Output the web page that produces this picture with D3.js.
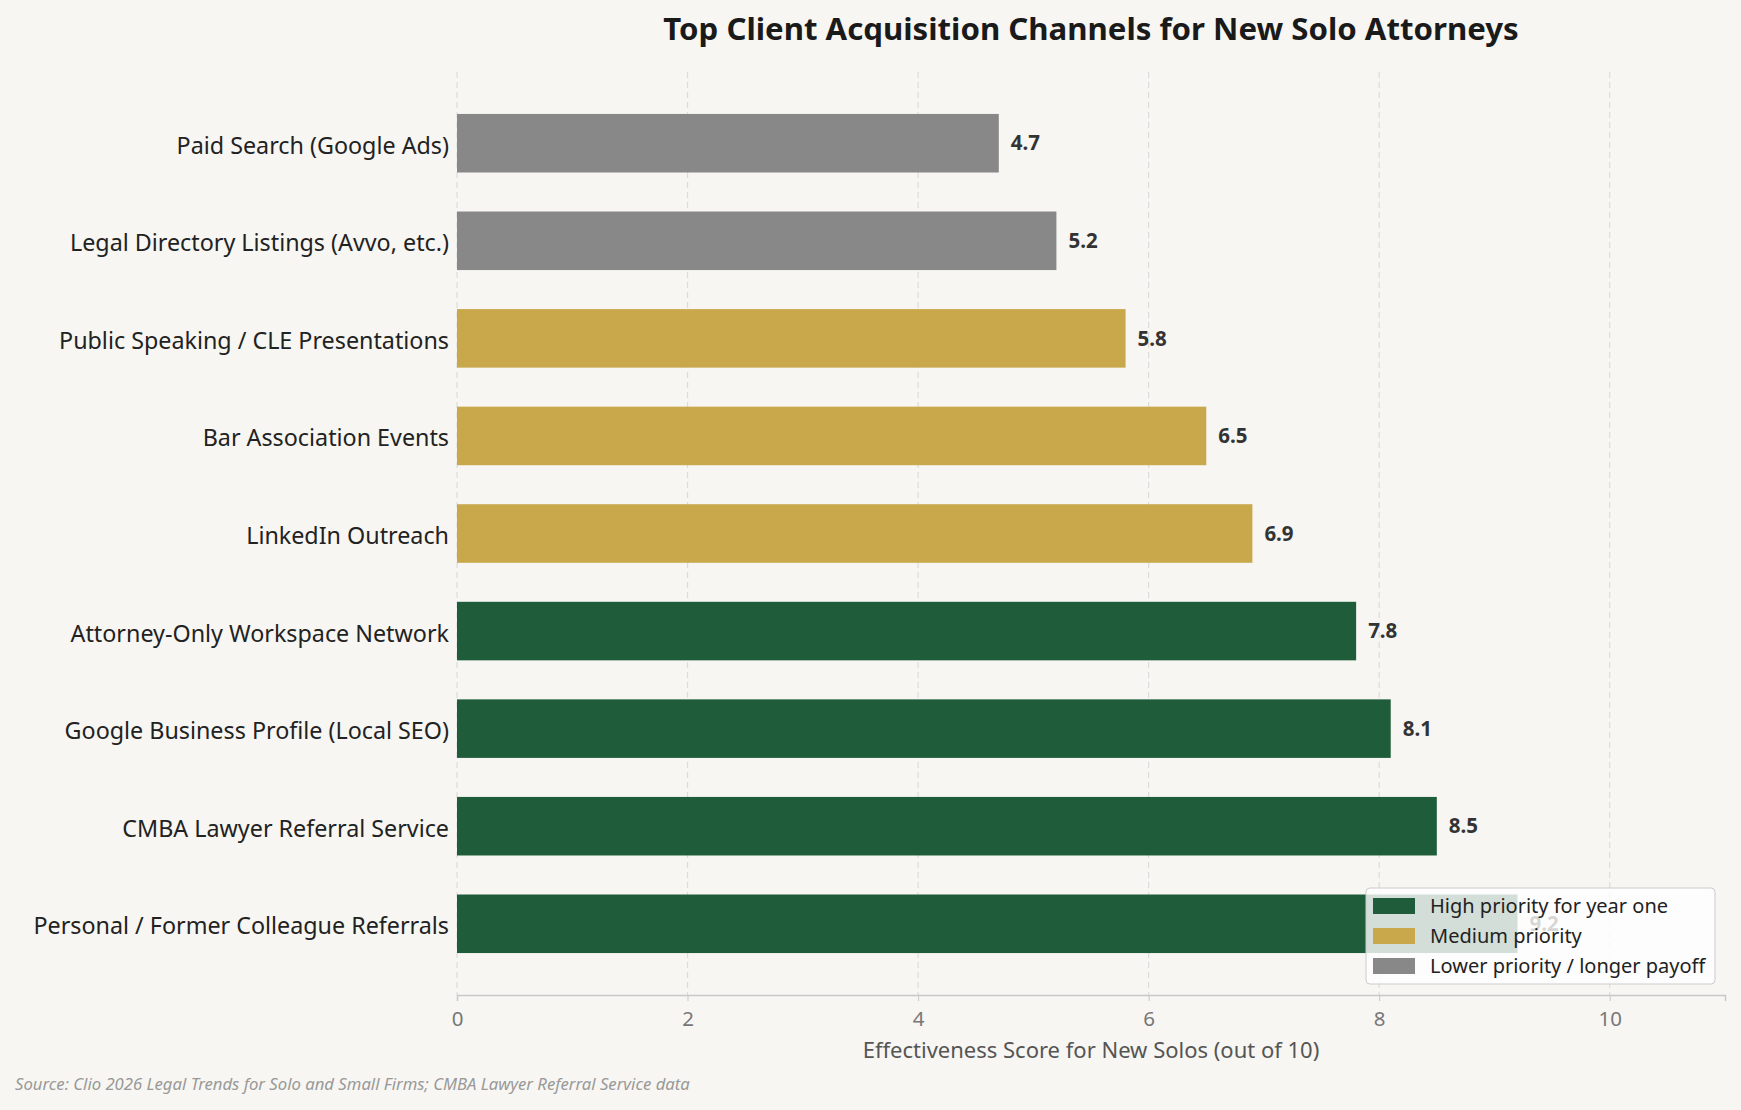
<!DOCTYPE html>
<html>
<head>
<meta charset="utf-8">
<script src="https://cdn.jsdelivr.net/npm/d3@7"></script>
<style>
  html, body { margin: 0; padding: 0; background: #f7f6f2; }
  svg { display: block; font-family: "Noto Sans", "Open Sans", sans-serif; }
</style>
</head>
<body>
<svg id="chart" width="1741" height="1110"></svg>
<script>
// ---- data (top to bottom) ----
const channels = [
  "Paid Search (Google Ads)",
  "Legal Directory Listings (Avvo, etc.)",
  "Public Speaking / CLE Presentations",
  "Bar Association Events",
  "LinkedIn Outreach",
  "Attorney-Only Workspace Network",
  "Google Business Profile (Local SEO)",
  "CMBA Lawyer Referral Service",
  "Personal / Former Colleague Referrals"
];
const scores = [4.7, 5.2, 5.8, 6.5, 6.9, 7.8, 8.1, 8.5, 9.2];
const priorities = ["low", "low", "medium", "medium", "medium", "high", "high", "high", "high"];
const priorityKeys = ["high", "medium", "low"];
const priorityLabels = ["High priority for year one", "Medium priority", "Lower priority / longer payoff"];
const priorityColors = ["#1e5c3a", "#c8a84a", "#888888"];
const xTicks = [0, 2, 4, 6, 8, 10];

const titleText = "Top Client Acquisition Channels for New Solo Attorneys";
const xTitle = "Effectiveness Score for New Solos (out of 10)";
const sourceText = "Source: Clio 2026 Legal Trends for Solo and Small Firms; CMBA Lawyer Referral Service data";

(function () {
// ---- layout ----
const svg = d3.select("#chart");
const pLeft = 457, pRight = 1725, pTop = 72, pBottom = 995;

const x = d3.scaleLinear().domain([0, 11]).range([pLeft, pRight]);
const y = d3.scaleBand().domain(channels).range([pTop, pBottom]).paddingInner(0.4).paddingOuter(0.43);
const color = d3.scaleOrdinal().domain(priorityKeys).range(priorityColors);

svg.append("rect").attr("width", 1741).attr("height", 1110).attr("fill", "#f7f6f2");

// grid
svg.append("g").selectAll("line").data(xTicks).join("line")
  .attr("x1", d => x(d)).attr("x2", d => x(d))
  .attr("y1", pTop).attr("y2", pBottom)
  .attr("stroke", "#dcdcdc").attr("stroke-width", 1.2)
  .attr("stroke-dasharray", "6,4");

// bars
const rows = channels.map((c, i) => ({ c, v: scores[i], p: priorities[i] }));
svg.append("g").selectAll("rect").data(rows).join("rect")
  .attr("x", x(0)).attr("y", d => y(d.c))
  .attr("width", d => x(d.v) - x(0)).attr("height", y.bandwidth())
  .attr("fill", d => color(d.p));

// value labels
svg.append("g").selectAll("text").data(rows).join("text")
  .attr("x", d => x(d.v) + 12).attr("y", d => y(d.c) + y.bandwidth() / 2)
  .attr("dy", "0.35em")
  .attr("font-size", 20.5).attr("font-weight", "bold").attr("fill", "#333")
  .text(d => d.v.toFixed(1));

// y labels
svg.append("g").selectAll("text").data(channels).join("text")
  .attr("x", pLeft - 8).attr("y", d => y(d) + y.bandwidth() / 2)
  .attr("dy", "0.45em").attr("text-anchor", "end")
  .attr("font-size", 23.3).attr("fill", "#222")
  .text(d => d);

// x axis
const xAxis = svg.append("g").attr("transform", `translate(0,${pBottom})`)
  .call(d3.axisBottom(x).tickValues(xTicks).tickSize(6).tickPadding(10).tickFormat(d3.format("d")));
xAxis.select(".domain").attr("stroke", "#c8c8c8").attr("stroke-width", 1.5);
xAxis.selectAll(".tick line").attr("stroke", "#c8c8c8");
xAxis.selectAll(".tick text").attr("font-size", 20.5).attr("fill", "#777")
  .attr("font-family", "'Noto Sans', sans-serif");

svg.append("text").attr("x", (pLeft + pRight) / 2).attr("y", 1058)
  .attr("text-anchor", "middle").attr("font-size", 22).attr("fill", "#555")
  .text(xTitle);

// title
svg.append("text").attr("x", (pLeft + pRight) / 2).attr("y", 40)
  .attr("text-anchor", "middle").attr("font-size", 31.2).attr("font-weight", "bold").attr("fill", "#1a1a1a")
  .text(titleText);

// source
svg.append("text").attr("x", 15).attr("y", 1090)
  .attr("font-size", 16.7).attr("font-style", "italic").attr("fill", "#999")
  .text(sourceText);

// legend
const lg = svg.append("g");
lg.append("rect").attr("x", 1366).attr("y", 888).attr("width", 349).attr("height", 96)
  .attr("rx", 4).attr("fill", "#ffffff").attr("fill-opacity", 0.8)
  .attr("stroke", "#cccccc").attr("stroke-width", 1);
priorityKeys.forEach((k, i) => {
  const cy = 906 + i * 30;
  lg.append("rect").attr("x", 1373).attr("y", cy - 8).attr("width", 42).attr("height", 16)
    .attr("fill", color(k));
  lg.append("text").attr("x", 1430).attr("y", cy).attr("dy", "0.35em")
    .attr("font-size", 20).attr("fill", "#222").text(priorityLabels[i]);
});
})();
</script>
</body>
</html>
